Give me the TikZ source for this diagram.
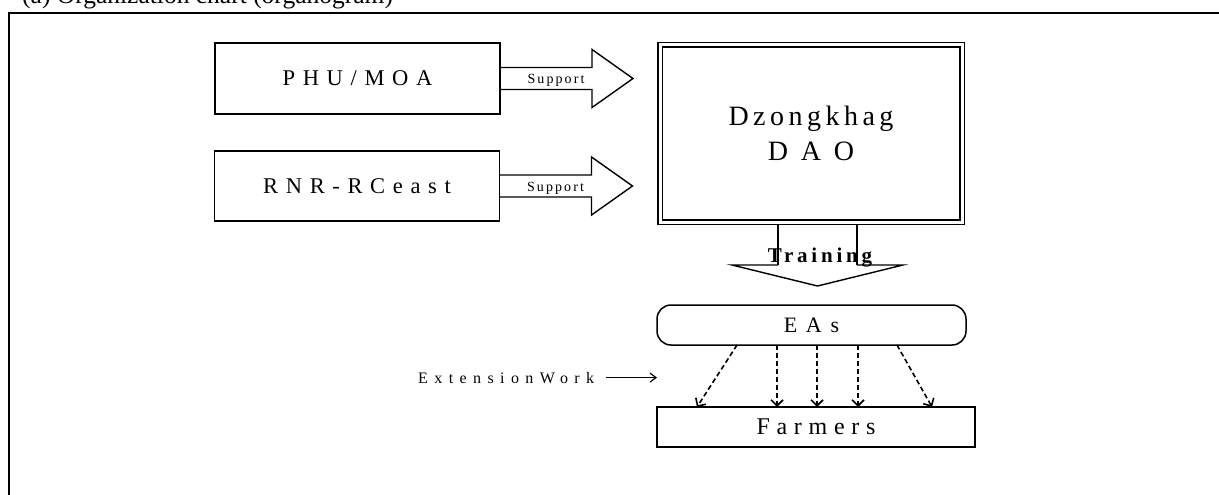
\documentclass[tikz,border=0pt]{standalone}
\usepackage{fontspec}
\setmainfont{Liberation Serif}
\usetikzlibrary{arrows.meta,calc}
\tikzset{
  frame/.style={line width=1.6pt, draw=black},
  orgbox/.style={draw=black, line width=1.3pt, minimum width=285pt,
    minimum height=71pt, inner sep=0pt, outer sep=0pt,
    font=\fontsize{22.5}{26}\selectfont\addfontfeature{LetterSpace=34}},
  daobox/.style={draw=black, double, line width=1.3pt, double distance=3pt,
    minimum width=302pt, minimum height=177pt, inner sep=0pt, outer sep=0pt,
    align=center, font=\fontsize{28}{35}\selectfont\addfontfeature{LetterSpace=16}},
  eabox/.style={draw=black, line width=1.5pt, rounded corners=14pt,
    minimum width=309pt, minimum height=40pt, inner sep=0pt, outer sep=0pt,
    font=\fontsize{22}{26}\selectfont\addfontfeature{LetterSpace=40}},
  farmbox/.style={draw=black, line width=1.4pt, minimum width=318pt,
    minimum height=40pt, inner sep=0pt, outer sep=0pt,
    font=\fontsize{24}{28}\selectfont\addfontfeature{LetterSpace=28}},
  blockarrow/.style={draw=black, line width=1.4pt, line join=miter},
  shaftline/.style={draw=black, line width=2pt},
  extension/.style={-{Straight Barb[length=6pt,width=12pt]}, dashed,
    dash pattern=on 5pt off 3pt, line width=1.6pt},
  pointer/.style={-{Straight Barb[length=6pt,width=9pt]}, line width=1.2pt},
  arrowlabel/.style={inner sep=0pt, anchor=base,
    font=\fontsize{14}{16}\selectfont\addfontfeature{LetterSpace=15}},
  sidenote/.style={inner sep=0pt, anchor=base west,
    font=\fontsize{16}{19}\selectfont\addfontfeature{LetterSpace=40}}
}
\begin{document}
\begin{tikzpicture}[x=1pt, y=-1pt]
  \useasboundingbox (0,0) rectangle (1219,495);
  \node[inner sep=0pt, anchor=base west, font=\fontsize{25.5}{30}\selectfont]
    (title) at (22,4) {(a) Organization chart (organogram)};
  \draw[frame] (1219,13) -- (9,13) -- (9,495);

  % supporting bodies
  \node[orgbox] (phu) at (357.5,78.5) {PHU/MOA};
  \node[orgbox, minimum height=70pt] (rnr) at (357,186) {RNR-RCeast};
  \node[daobox] (dao) at (811,133.5)
    {Dzongkhag\\{\addfontfeature{LetterSpace=46}DAO}};

  % hollow support arrows
  \foreach \src in {phu,rnr}{
    \draw[blockarrow] ($(\src.east)+(0,-11)$) -- ++(92,0) -- ++(0,-18)
      -- ++(41,29) -- ++(-41,29) -- ++(0,-18) -- ++(-92,0);
    \node[arrowlabel] at ($(\src.east)+(56,5)$) {Support};
  }

  % training arrow
  \draw[shaftline] ($(dao.south)+(-33,2)$) -- ++(0,41);
  \draw[shaftline] ($(dao.south)+(46,2)$) -- ++(0,41);
  \draw[blockarrow] ($(dao.south)+(-33,43)$) -- ++(-46,0)
    -- ++(85.5,21) -- ++(85.5,-21) -- ++(-46,0);
  \node[arrowlabel, font=\fontsize{21}{24}\bfseries\addfontfeature{LetterSpace=18}]
    (training) at (820,262) {Training};

  \node[eabox] (eas) at (811.5,325) {EAs};
  \node[farmbox] (farmers) at (816,427) {Farmers};

  % extension work
  \foreach \a/\b in {-74.5/-119,-34.5/-39,5.5/1,46.5/42,85.5/116}
    \draw[extension] ([xshift=\a pt]eas.south) -- ([xshift=\b pt]farmers.north);

  \node[sidenote] (extwork) at (418,383) {ExtensionWork};
  \coordinate (extend) at (extwork.east -| eas.west);
  \draw[pointer] ([xshift=12pt]extwork.east) -- (extend);
\end{tikzpicture}
\end{document}
